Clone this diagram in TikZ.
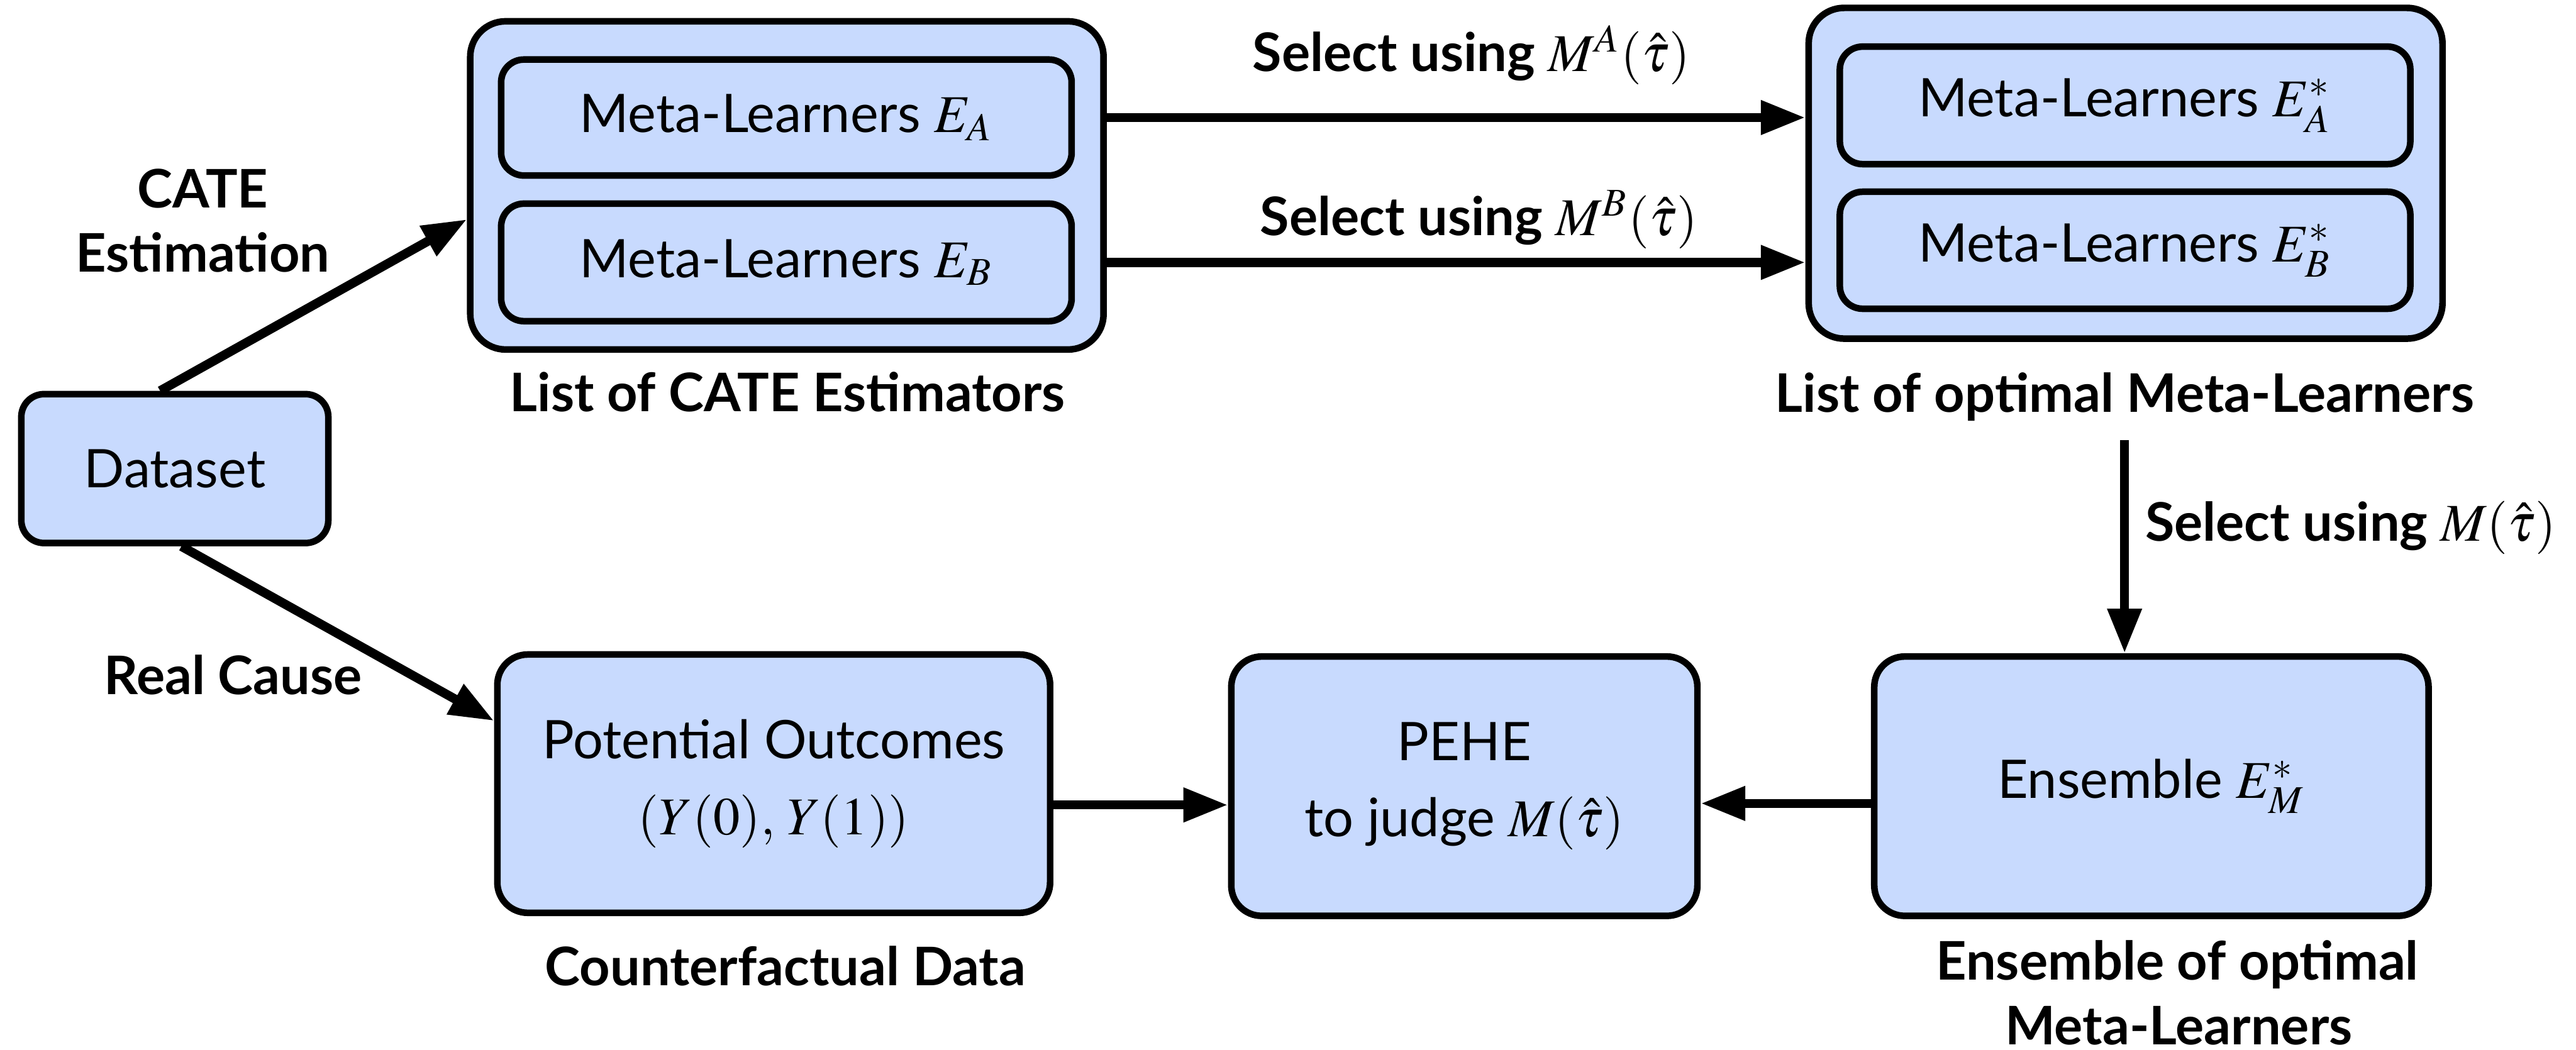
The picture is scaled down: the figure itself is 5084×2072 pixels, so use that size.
\documentclass[tikz,border=0pt]{standalone}
\usepackage{mathptmx}
\usepackage[no-math]{fontspec}
\setmainfont{Lato}
\usetikzlibrary{arrows.meta,calc}
\definecolor{boxblue}{RGB}{200,218,254}
\begin{document}
\begin{tikzpicture}[x=0.1pt,y=-0.1pt,
  box/.style={draw=black,line width=1.3pt,fill=boxblue,rounded corners=#1,inner sep=0pt,align=center,font=\fontsize{10.5}{15}\selectfont},
  box/.default=6pt,
  lbl/.style={inner sep=0pt,align=center,font=\bfseries\fontsize{10.5}{13}\selectfont},
  arr/.style={line width=1.8pt,-{Triangle[length=8.8pt,width=6.4pt]}}]
\useasboundingbox (0,0) rectangle (5084,2072);

% boxes
\node[box=4.5pt,minimum width=60.6pt,minimum height=29.4pt] (dataset) at (345,925) {Dataset};
\node[box=7pt,minimum width=125pt,minimum height=64.8pt] (outer1) at (1553,366) {};
\node[box=4.5pt,minimum width=112.6pt,minimum height=22.9pt] (ea) at (1552,232) {Meta-Learners $E_A$};
\node[box=4.5pt,minimum width=112.6pt,minimum height=23.2pt] (eb) at (1552,518) {Meta-Learners $E_B$};
\node[box=7pt,minimum width=125.1pt,minimum height=65.3pt] (outer2) at (4195,342) {};
\node[box=4.5pt,minimum width=112.6pt,minimum height=23.2pt] (eas) at (4194,208) {Meta-Learners $E_A^*$};
\node[box=4.5pt,minimum width=112.6pt,minimum height=23.1pt] (ebs) at (4194,494) {Meta-Learners $E_B^*$};
\node[box,minimum width=109.1pt,minimum height=51pt] (po) at (1527,1547) {Potential Outcomes\\$(Y(0),\,Y(1))$};
\node[box,minimum width=92pt,minimum height=51.2pt] (pehe) at (2890,1552) {PEHE\\to judge $M(\hat{\tau})$};
\node[box,minimum width=109.4pt,minimum height=51.2pt] (ens) at (4246,1552) {Ensemble $E_M^*$};

% labels
\node[lbl,anchor=base] (lcate) at (1554,812) {List of CATE Estimators};
\node[lbl,anchor=base] (lopt) at (4193,814) {List of optimal Meta-Learners};
\node[lbl,anchor=base] (lcf) at (1550,1946) {Counterfactual Data};
\node[lbl,anchor=base] (lreal) at (460,1371) {Real Cause};
\node[lbl,anchor=base] (lcate1) at (400,410) {CATE};
\node[lbl,anchor=base] (lcate2) at (400,537) {Estimation};
\node[lbl,anchor=base] (lens1) at (4297,1935) {Ensemble of optimal};
\node[lbl,anchor=base] (lens2) at (4300,2062) {Meta-Learners};
\node[lbl,anchor=base] (lsa) at (2904,141) {Select using $M^A(\hat{\tau})$};
\node[lbl,anchor=base] (lsb) at (2919,465) {Select using $M^B(\hat{\tau})$};
\node[lbl,anchor=base west] (lsm) at (4232,1068) {Select using $M(\hat{\tau})$};

% connectors
\draw[arr] ([xshift=-2.9pt]dataset.north) -- ([yshift=-6.7pt]outer1.west);
\draw[arr] ([xshift=1.3pt]dataset.south) -- ([yshift=12.4pt]po.west);
\draw[arr] (ea.east -| outer1.east) -- (ea.east -| outer2.west);
\draw[arr] (eb.east -| outer1.east) -- (eb.east -| outer2.west);
\draw[arr] ([yshift=-3.5pt]lopt.south) -- (lopt.south |- ens.north);
\draw[arr] ([yshift=-4.2pt]po.east) -- ([yshift=-4.2pt]po.east -| pehe.west);
\draw[arr] ([yshift=-3.4pt]ens.west) -- ([yshift=-3.4pt]ens.west -| pehe.east);
\end{tikzpicture}
\end{document}
